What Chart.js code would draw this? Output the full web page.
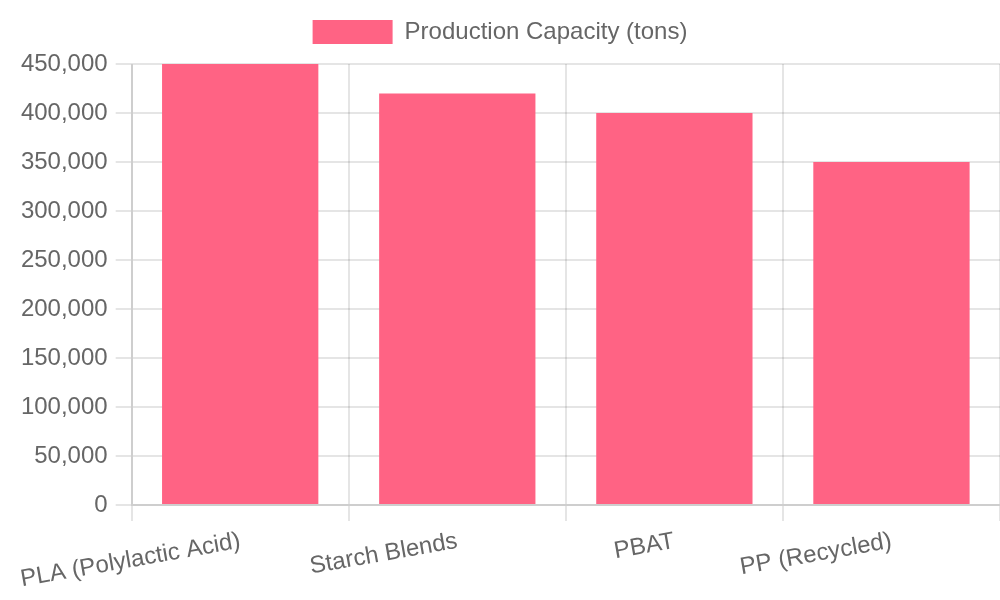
<!DOCTYPE html>
<html>
<head>
<meta charset="utf-8">
<script src="https://cdn.jsdelivr.net/npm/chart.js@4"></script>
<style>
  body { margin: 0; background: #fff; }
  #wrap { width: 1000px; height: 600px; }
</style>
</head>
<body>
<div id="wrap"><canvas id="myChart" width="1000" height="600"></canvas></div>
<script>
// materials and their capacity
var materiales = ['PLA (Polylactic Acid)', 'Starch Blends', 'PBAT', 'PP (Recycled)'];
var capacidad = [450000, 420000, 400000, 350000];
var etiquetaSerie = 'Production Capacity (tons)';

Chart.defaults.font.family = "'Liberation Sans', Arial, sans-serif";
Chart.defaults.font.size = 24;
Chart.defaults.color = '#666';

const ctx = document.getElementById('myChart');

// a bit of room between legend and plot
var margenLeyenda = {
    id: 'margenLeyenda',
    beforeInit(chart) {
        var fitOrig = chart.legend.fit;
        chart.legend.fit = function () {
            fitOrig.bind(chart.legend)();
            this.height += 10;
        };
    }
};

var myChart = new Chart(ctx, {
    type: 'bar',
    data: {
        labels: materiales,
        datasets: [{
            label: etiquetaSerie,
            data: capacidad,
            backgroundColor: 'rgb(255,99,132)'
        }]
    },
    options: {
        responsive: false,
        animation: false,
        plugins: {
            legend: {
                labels: { boxWidth: 80, boxHeight: 24, padding: 20 }
            },
            tooltip: { enabled: false }
        },
        scales: {
            x: {
                grid: { lineWidth: 2, tickLength: 16 },
                border: { width: 2 },
                ticks: { padding: 6, minRotation: 10, maxRotation: 10 }
            },
            y: {
                beginAtZero: true,
                max: 450000,
                grid: { lineWidth: 2, tickLength: 16 },
                border: { width: 2 },
                ticks: { padding: 8, stepSize: 50000 }
            }
        }
    },
    plugins: [margenLeyenda]
});
</script>
</body>
</html>
